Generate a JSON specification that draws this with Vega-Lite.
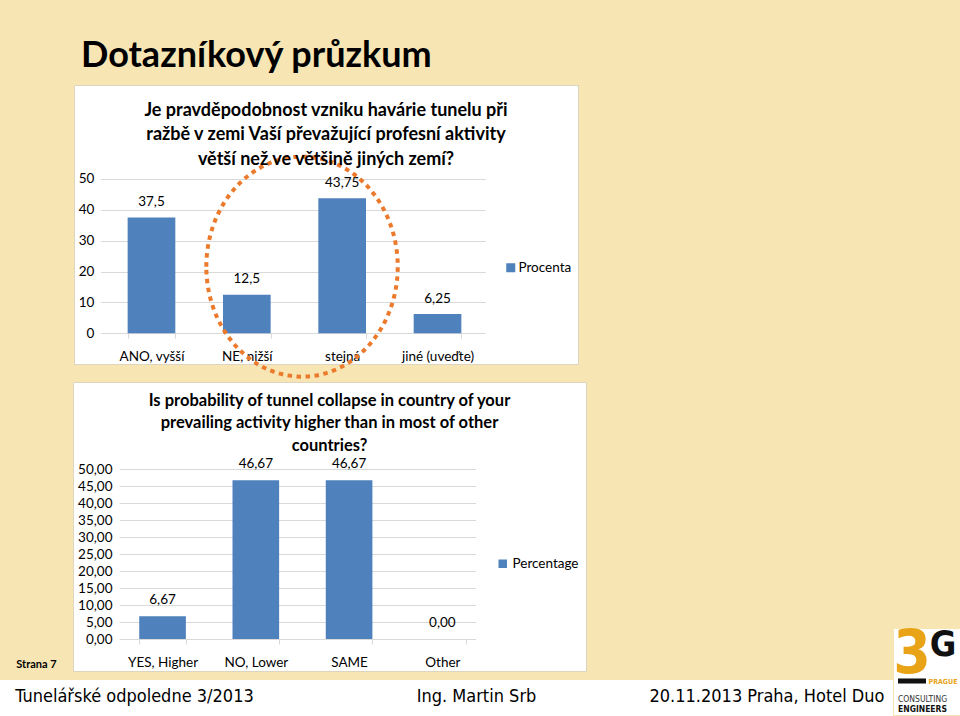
{
  "$schema": "https://vega.github.io/schema/vega-lite/v6.json",
  "usermeta": {"embedOptions": {"actions": false}},
  "background": "#F7E5B3",
  "padding": {"left": 0, "top": 37, "right": 0, "bottom": 0},
  "title": {"text": "Dotazníkový průzkum", "anchor": "start", "frame": "bounds", "dx": 81, "offset": 10, "font": "Lato", "fontSize": 36, "fontWeight": "bold", "color": "#000", "baseline": "top"},
  "datasets": {
    "cz": [
      {"kategorie": "ANO, vyšší", "hodnota": 37.5, "serie": "Procenta"},
      {"kategorie": "NE, nižší", "hodnota": 12.5, "serie": "Procenta"},
      {"kategorie": "stejná", "hodnota": 43.75, "serie": "Procenta"},
      {"kategorie": "jiné (uveďte)", "hodnota": 6.25, "serie": "Procenta"}
    ],
    "en": [
      {"category": "YES, Higher", "value": 6.67, "series": "Percentage"},
      {"category": "NO, Lower", "value": 46.67, "series": "Percentage"},
      {"category": "SAME", "value": 46.67, "series": "Percentage"},
      {"category": "Other", "value": 0, "series": "Percentage"}
    ]
  },
  "hconcat": [
    {
      "vconcat": [
        {
          "hconcat": [
            {"width": 74, "height": 296, "data": {"values": [{}]}, "mark": "text", "encoding": {"text": {"value": ""}}},
            {
              "width": 504, "height": 279,
              "view": {"fill": "white", "stroke": "#DDD5BF", "strokeWidth": 1},
              "title": {"text": ["Je pravděpodobnost vzniku havárie tunelu při", "ražbě v zemi Vaší převažující profesní aktivity", "větší než ve většině jiných zemí?"], "anchor": "middle", "frame": "group", "offset": -83.5, "fontSize": 18, "lineHeight": 24.5, "font": "Lato", "fontWeight": "bold", "color": "#000", "baseline": "top"},
              "data": {"name": "cz"},
              "encoding": {
                "x": {"field": "kategorie", "type": "nominal", "sort": null,
                  "scale": {"paddingInner": 0.5, "paddingOuter": 0.893, "align": 0.315},
                  "axis": {"title": null, "orient": "bottom", "offset": -30.7, "domain": false, "ticks": true, "tickBand": "extent", "tickSize": 5, "tickColor": "#D9D9D9", "labelAngle": 0, "labelBaseline": "middle", "labelPadding": 18.4, "labelFont": "Lato", "labelFontSize": 13.5, "labelColor": "#000", "grid": false}},
                "y": {"field": "hodnota", "type": "quantitative",
                  "scale": {"domain": [-9.95, 80.46], "nice": false, "zero": false},
                  "axis": {"title": null, "values": [0, 10, 20, 30, 40, 50], "format": "d", "offset": -26.6, "domain": false, "grid": false, "ticks": true, "tickSize": -384.7, "tickColor": "#D9D9D9", "labelPadding": 391.5, "labelFont": "Lato", "labelFontSize": 13.5, "labelColor": "#000"}}
              },
              "layer": [
                {"mark": {"type": "bar"},
                 "encoding": {"color": {"field": "serie", "type": "nominal", "scale": {"range": ["#4F81BD"]},
                   "legend": {"title": null, "orient": "none", "legendX": 430, "legendY": 176, "symbolType": "square", "symbolSize": 81, "symbolStrokeWidth": 0, "labelFont": "Lato", "labelFontSize": 13.5, "labelColor": "#000", "padding": 0, "labelOffset": 1}}}},
                {"mark": {"type": "text", "baseline": "middle", "dy": -15.3, "font": "Lato", "fontSize": 13.5, "color": "#000"},
                 "encoding": {"text": {"field": "hodnota", "type": "quantitative", "format": "~g"}}},
                {"transform": [{"filter": {"field": "kategorie", "equal": "NE, nižší"}}],
                 "mark": {"type": "point", "shape": "M-0.87,0C-0.87,-0.552,-0.48,-1,0,-1C0.48,-1,0.87,-0.552,0.87,0C0.87,0.552,0.48,1,0,1C-0.48,1,-0.87,0.552,-0.87,0Z", "size": 48400, "filled": false, "stroke": "#EC7A2C", "strokeWidth": 4, "strokeJoin": "round", "strokeDash": [4.5, 4.5], "opacity": 1, "xOffset": 55.2},
                 "encoding": {"y": {"datum": 21.6, "type": "quantitative"}}}
              ]
            }
          ],
          "spacing": 0, "bounds": "flush",
          "resolve": {"scale": {"color": "independent"}, "legend": {"color": "independent"}}
        },
        {
          "hconcat": [
            {"width": 73, "height": 298, "data": {"values": [{"t": "Strana 7"}]}, "mark": {"type": "text", "font": "Lato", "fontWeight": "bold", "fontSize": 11, "color": "#000", "baseline": "middle", "dy": 134}, "encoding": {"text": {"field": "t"}}},
            {
              "width": 513, "height": 289,
              "view": {"fill": "white", "stroke": "#DDD5BF", "strokeWidth": 1},
              "title": {"text": ["Is probability of tunnel collapse in country of your", "prevailing activity higher than in most of other", "countries?"], "anchor": "middle", "frame": "group", "offset": -72, "fontSize": 16.5, "lineHeight": 22.5, "font": "Lato", "fontWeight": "bold", "color": "#000", "baseline": "top"},
              "data": {"name": "en"},
              "encoding": {
                "x": {"field": "category", "type": "nominal", "sort": null,
                  "scale": {"paddingInner": 0.5, "paddingOuter": 1.161, "align": 0.355},
                  "axis": {"title": null, "orient": "bottom", "offset": -32, "domain": false, "ticks": true, "tickBand": "extent", "tickSize": 5, "tickColor": "#D9D9D9", "labelAngle": 0, "labelBaseline": "middle", "labelPadding": 18.3, "labelFont": "Lato", "labelFontSize": 13.5, "labelColor": "#000", "grid": false}},
                "y": {"field": "value", "type": "quantitative",
                  "scale": {"domain": [-9.41, 75.59], "nice": false, "zero": false},
                  "axis": {"title": null, "values": [0, 5, 10, 15, 20, 25, 30, 35, 40, 45, 50], "format": ".2f", "offset": -46.3, "domain": false, "grid": false, "ticks": true, "tickSize": -356.4, "tickColor": "#D9D9D9", "labelPadding": 363.7, "labelFont": "Lato", "labelFontSize": 13.5, "labelColor": "#000"}}
              },
              "layer": [
                {"mark": {"type": "bar"},
                 "encoding": {"color": {"field": "series", "type": "nominal", "scale": {"range": ["#4F81BD"]},
                   "legend": {"title": null, "orient": "none", "legendX": 423, "legendY": 175, "symbolType": "square", "symbolSize": 72, "symbolStrokeWidth": 0, "labelFont": "Lato", "labelFontSize": 13.5, "labelColor": "#000", "padding": 0, "labelOffset": 3}}}},
                {"mark": {"type": "text", "baseline": "middle", "dy": -16, "font": "Lato", "fontSize": 13.5, "color": "#000"},
                 "encoding": {"text": {"field": "value", "type": "quantitative", "format": ".2f"}}}
              ]
            }
          ],
          "spacing": 0, "bounds": "flush",
          "resolve": {"scale": {"color": "independent"}, "legend": {"color": "independent"}}
        },
        {
          "hconcat": [
            {"width": 269, "height": 36, "view": {"fill": "white"}, "data": {"values": [{"t": "Tunelářské odpoledne 3/2013"}]}, "mark": {"type": "text", "font": "DejaVu Sans Condensed, DejaVu Sans, sans-serif", "fontSize": 18, "color": "#000", "baseline": "middle", "dy": -1}, "encoding": {"text": {"field": "t"}}},
            {"width": 415, "height": 36, "view": {"fill": "white"}, "data": {"values": [{"t": "Ing. Martin Srb"}]}, "mark": {"type": "text", "font": "DejaVu Sans Condensed, DejaVu Sans, sans-serif", "fontSize": 18, "color": "#000", "baseline": "middle", "dy": -1}, "encoding": {"text": {"field": "t"}}},
            {"width": 209, "height": 36, "view": {"fill": "white"}, "data": {"values": [{"t": "20.11.2013 Praha, Hotel Duo"}]}, "mark": {"type": "text", "font": "DejaVu Sans Condensed, DejaVu Sans, sans-serif", "fontSize": 18, "color": "#000", "baseline": "middle", "dx": -21.5, "dy": -1}, "encoding": {"text": {"field": "t"}}}
          ],
          "spacing": 0, "bounds": "flush"
        }
      ],
      "spacing": 0, "bounds": "full",
      "resolve": {"scale": {"color": "independent"}, "legend": {"color": "independent"}}
    },
    {
      "vconcat": [
        {"width": 67, "height": 544, "data": {"values": [{}]}, "mark": "text", "encoding": {"text": {"value": ""}}},
        {
          "width": 67, "height": 86, "view": {"fill": "white"},
          "data": {"values": [{"a": "3", "b": "G", "p": "PRAGUE", "c": "CONSULTING", "e": "ENGINEERS"}]},
          "layer": [
            {"mark": {"type": "text", "font": "DejaVu Sans Condensed, DejaVu Sans, sans-serif", "fontWeight": "bold", "fontSize": 60, "color": "#E8A317", "baseline": "middle", "dx": -15.5, "dy": -17}, "encoding": {"text": {"field": "a"}}},
            {"mark": {"type": "text", "font": "DejaVu Sans Condensed, DejaVu Sans, sans-serif", "fontWeight": "bold", "fontSize": 36, "color": "#111", "baseline": "middle", "dx": 15.5, "dy": -27}, "encoding": {"text": {"field": "b"}}},
            {"mark": {"type": "point", "shape": "M-1,-0.18H1V0.18H-1Z", "size": 784, "filled": true, "color": "#111", "opacity": 1, "xOffset": -15.5, "yOffset": 9}, "encoding": {}},
            {"mark": {"type": "text", "font": "DejaVu Sans Condensed, DejaVu Sans, sans-serif", "fontWeight": "bold", "fontSize": 7, "color": "#E8A317", "baseline": "middle", "dx": 15.5, "dy": 9.5}, "encoding": {"text": {"field": "p"}}},
            {"mark": {"type": "text", "font": "DejaVu Sans Condensed, DejaVu Sans, sans-serif", "fontSize": 8.5, "color": "#333", "align": "left", "baseline": "middle", "dx": -29.5, "dy": 27}, "encoding": {"text": {"field": "c"}}},
            {"mark": {"type": "text", "font": "DejaVu Sans Condensed, DejaVu Sans, sans-serif", "fontWeight": "bold", "fontSize": 8.5, "color": "#111", "align": "left", "baseline": "middle", "dx": -29.5, "dy": 37}, "encoding": {"text": {"field": "e"}}}
          ]
        }
      ],
      "spacing": 0, "bounds": "flush"
    }
  ],
  "spacing": 0,
  "bounds": "full",
  "resolve": {"scale": {"color": "independent"}, "legend": {"color": "independent"}},
  "config": {
    "view": {"stroke": null},
    "font": "Lato",
    "locale": {"number": {"decimal": ",", "thousands": " ", "grouping": [3], "currency": ["", " Kč"]}}
  }
}
